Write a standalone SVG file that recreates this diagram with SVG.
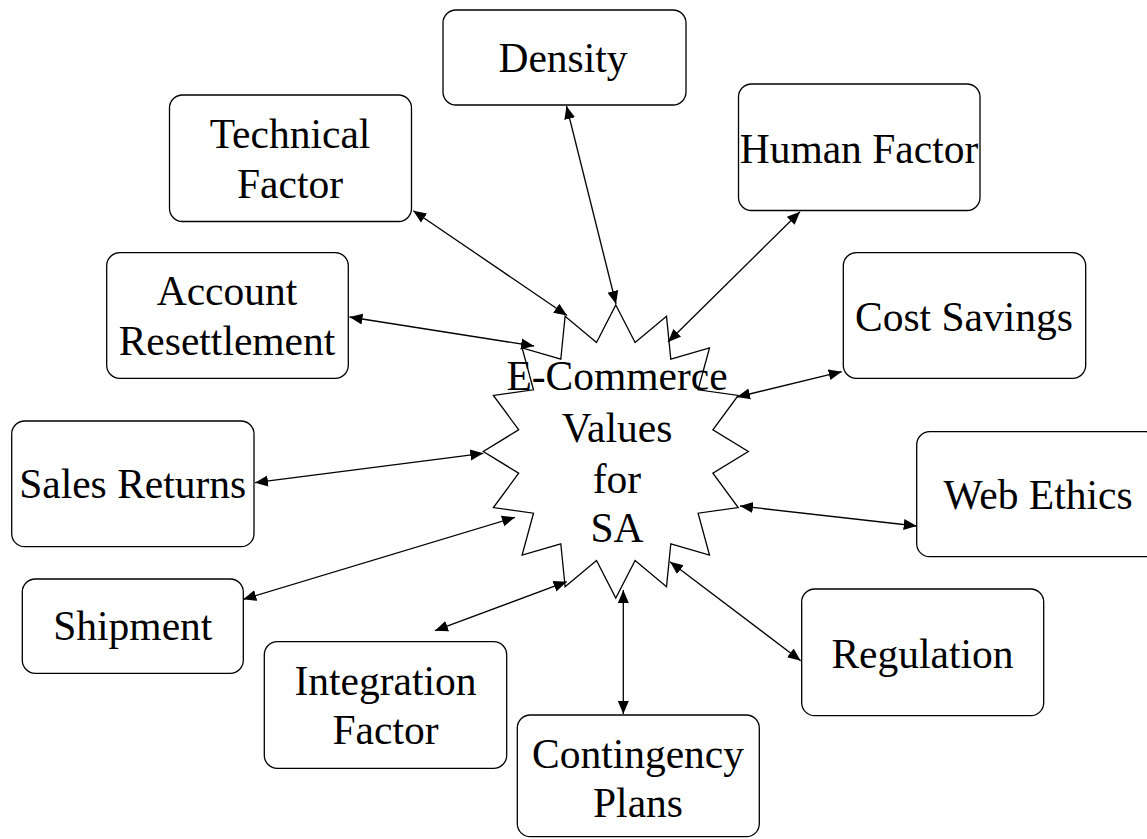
<svg xmlns="http://www.w3.org/2000/svg" width="1147" height="839" viewBox="0 0 1147 839">
<style>
.box{fill:#fff;stroke:#000;stroke-width:1.3}
.star{fill:#fff;stroke:#000;stroke-width:1.3;stroke-linejoin:miter}
.t{font-family:"Liberation Serif","Times New Roman",serif;font-size:41.5px;fill:#000;text-anchor:middle}
.c{stroke:#000;stroke-width:1.3;fill:none;marker-start:url(#ah);marker-end:url(#ah)}
</style>
<defs>
<marker id="ah" markerUnits="userSpaceOnUse" markerWidth="14" markerHeight="12" refX="13" refY="5.5" orient="auto-start-reverse" viewBox="0 0 14 11">
<path d="M0,0 L13,5.5 L0,11 z" fill="#000"/>
</marker>
</defs>
<rect width="1147" height="839" fill="#fff"/>
<g id="node-center">
<polygon class="star" points="615.8,305 635.1,342.6 666.5,316.2 670.8,359.2 709.5,347.9 698.1,389.8 738.2,395.4 712.9,429.8 748.3,451.5 712.9,473.2 738.2,507.6 698.1,513.2 709.5,555.1 670.8,543.8 666.5,586.8 635.1,560.4 615.8,598 596.5,560.4 565.1,586.8 560.8,543.8 522.1,555.1 533.5,513.2 493.4,507.6 518.7,473.2 483.3,451.5 518.7,429.8 493.4,395.4 533.5,389.8 522.1,347.9 560.8,359.2 565.1,316.2 596.5,342.6"/>
<text class="t" x="617" y="390">E-Commerce</text>
<text class="t" x="617" y="441.7">Values</text>
<text class="t" x="617" y="493.3">for</text>
<text class="t" x="617" y="541.7">SA</text>
</g>
<g id="node-density">
<rect class="box" x="443" y="10" width="243" height="95" rx="13"/>
<text class="t" x="563" y="72">Density</text>
</g>
<g id="node-technical">
<rect class="box" x="169.5" y="95" width="242" height="126.5" rx="13"/>
<text class="t" x="290" y="148.3">Technical</text>
<text class="t" x="290" y="198.3">Factor</text>
</g>
<g id="node-human">
<rect class="box" x="738.5" y="84" width="241.5" height="126.5" rx="13"/>
<text class="t" x="859" y="162.7">Human Factor</text>
</g>
<g id="node-account">
<rect class="box" x="106.7" y="252.7" width="241.6" height="125.6" rx="13"/>
<text class="t" x="227" y="305">Account</text>
<text class="t" x="227" y="355">Resettlement</text>
</g>
<g id="node-cost">
<rect class="box" x="843.3" y="252.7" width="242.4" height="125.6" rx="13"/>
<text class="t" x="964" y="330.7">Cost Savings</text>
</g>
<g id="node-sales">
<rect class="box" x="11.7" y="421" width="242.3" height="125.7" rx="13"/>
<text class="t" x="132.7" y="498.3">Sales Returns</text>
</g>
<g id="node-web">
<rect class="box" x="916.7" y="431.7" width="242" height="125" rx="13"/>
<text class="t" x="1038" y="509.3">Web Ethics</text>
</g>
<g id="node-shipment">
<rect class="box" x="22.3" y="579" width="221" height="94.3" rx="13"/>
<text class="t" x="132.8" y="640">Shipment</text>
</g>
<g id="node-integration">
<rect class="box" x="264.3" y="641.7" width="242.4" height="126.6" rx="13"/>
<text class="t" x="385.5" y="695">Integration</text>
<text class="t" x="385.5" y="744">Factor</text>
</g>
<g id="node-contingency">
<rect class="box" x="517.3" y="715" width="242" height="121.7" rx="13"/>
<text class="t" x="638" y="768.3">Contingency</text>
<text class="t" x="638" y="817.3">Plans</text>
</g>
<g id="node-regulation">
<rect class="box" x="801.7" y="589" width="242" height="126.7" rx="13"/>
<text class="t" x="922.5" y="668.3">Regulation</text>
</g>
<g id="connectors">
<line class="c" x1="566.5" y1="106" x2="616" y2="304"/>
<line class="c" x1="413.3" y1="210.7" x2="567" y2="315.5"/>
<line class="c" x1="349.5" y1="317" x2="534" y2="346"/>
<line class="c" x1="800" y1="211.7" x2="668" y2="342"/>
<line class="c" x1="841.7" y1="371.7" x2="737" y2="397"/>
<line class="c" x1="916.7" y1="526" x2="740" y2="506"/>
<line class="c" x1="255" y1="482.7" x2="483.3" y2="453.3"/>
<line class="c" x1="243.3" y1="599.3" x2="515" y2="517.3"/>
<line class="c" x1="435" y1="630.7" x2="566.7" y2="581.7"/>
<line class="c" x1="623.3" y1="590" x2="623.3" y2="714"/>
<line class="c" x1="670" y1="561.7" x2="800.7" y2="660.7"/>
</g>
</svg>
